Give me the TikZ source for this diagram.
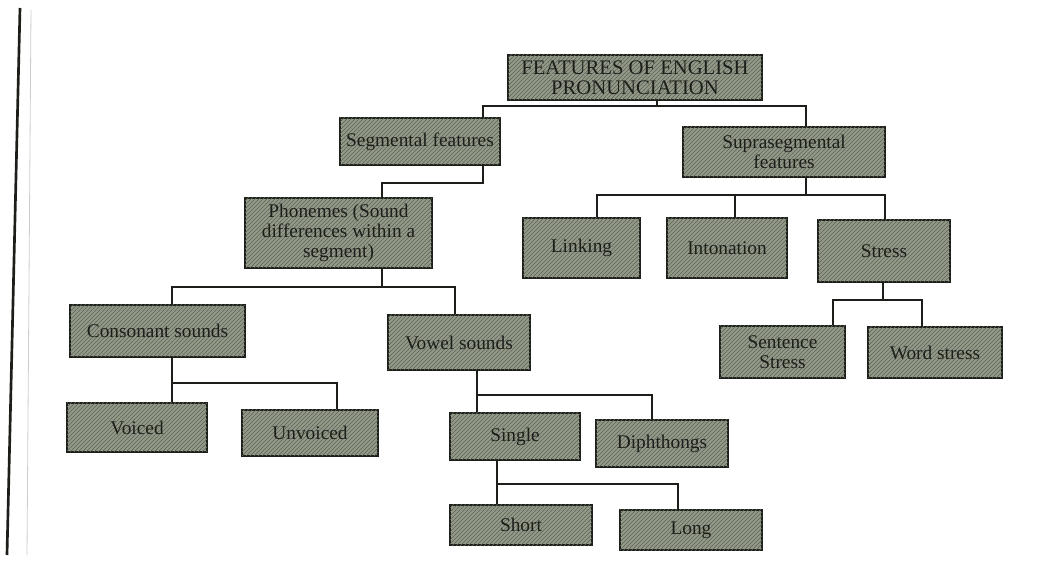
\documentclass[tikz,border=0pt]{standalone}
\usepackage{fontspec}
\setmainfont{Liberation Serif}
\usetikzlibrary{calc,patterns}
\definecolor{sage}{RGB}{148,154,138}
\definecolor{sageD}{RGB}{92,100,86}
\definecolor{ink}{RGB}{28,30,26}
\tikzset{
  feat/.style 2 args={
    draw=ink,
    line width=1.2pt,
    fill=sage,
    postaction={pattern=north east lines, pattern color=sageD},
    minimum width=#1*0.75pt,
    minimum height=#2*0.75pt,
    inner sep=2pt,
    align=center,
    text=ink,
    font=\fontsize{14.5}{15}\selectfont
  },
  link/.style={draw=ink, line width=1.1pt},
}
\begin{document}
\begin{tikzpicture}[x=0.75pt,y=-0.75pt]
\useasboundingbox (0,0) rectangle (1050,566);

% page edge
\draw[line width=2pt, ink] (20,8) -- (7,555);
\draw[line width=0.6pt, black!20] (31,10) -- (27,555);

\node[feat={254}{45}, font=\fontsize{15.5}{15}\selectfont] (top) at (635,77.5) {FEATURES OF ENGLISH\\PRONUNCIATION};

\node[feat={160}{47}] (seg) at (420,141.5) {Segmental features};
\node[feat={202}{50}] (sup) at (784,152) {Suprasegmental\\features};

\node[feat={187}{70}] (pho) at (338.5,233) {Phonemes (Sound\\differences within a\\segment)};

\node[feat={117}{60}] (lin) at (581.5,248) {Linking};
\node[feat={120}{60}] (int) at (727,248) {Intonation};
\node[feat={132}{62}] (str) at (884,251) {Stress};

\node[feat={125}{52}] (sen) at (782.5,352) {Sentence\\Stress};
\node[feat={134}{51}] (wor) at (935,352.5) {Word stress};

\node[feat={175}{52}] (con) at (157.5,331) {Consonant sounds};
\node[feat={142}{55}] (vow) at (459,342.5) {Vowel sounds};

\node[feat={140}{49}] (voi) at (137,427.5) {Voiced};
\node[feat={136}{46}] (unv) at (310,433) {Unvoiced};

\node[feat={130}{47}] (sin) at (515,436.5) {Single};
\node[feat={132}{47}] (dip) at (662,443.5) {Diphthongs};

\node[feat={142}{40}] (sho) at (521,525) {Short};
\node[feat={142}{40}] (lon) at (691,530) {Long};

% junctions
\coordinate (j1) at (657,106);
\coordinate (j2) at (483,183);
\coordinate (j3) at (806,195);
\coordinate (j4) at (883,300);
\coordinate (j5) at (382,287);
\coordinate (j6) at (172,383);
\coordinate (j7) at (477,395);
\coordinate (j8) at (497,484);

\draw[link] (top.south -| j1) -- (j1) -| ($(seg.north)+(63,0)$);
\draw[link] (j1) -| ($(sup.north)+(22,0)$);

\draw[link] (seg.south -| j2) -- (j2) -| ($(pho.north)+(43.5,0)$);

\draw[link] (sup.south -| j3) -- (j3) -| ($(lin.north)+(15.5,0)$);
\draw[link] (j3) -| ($(int.north)+(8,0)$);
\draw[link] (j3) -| ($(str.north)+(1,0)$);

\draw[link] (str.south -| j4) -- (j4) -| ($(sen.north)+(50.5,0)$);
\draw[link] (j4) -| ($(wor.north)+(-13,0)$);

\draw[link] (pho.south -| j5) -- (j5) -| ($(con.north)+(14.5,0)$);
\draw[link] (j5) -| ($(vow.north)+(-4,0)$);

\draw[link] (con.south -| j6) -- (j6) -| ($(voi.north)+(35,0)$);
\draw[link] (j6) -| ($(unv.north)+(27,0)$);

\draw[link] (vow.south -| j7) -- (j7) -| ($(sin.north)+(-38,0)$);
\draw[link] (j7) -| ($(dip.north)+(-10,0)$);

\draw[link] (sin.south -| j8) -- (j8) -| ($(sho.north)+(-24,0)$);
\draw[link] (j8) -| ($(lon.north)+(-13,0)$);

\end{tikzpicture}
\end{document}
